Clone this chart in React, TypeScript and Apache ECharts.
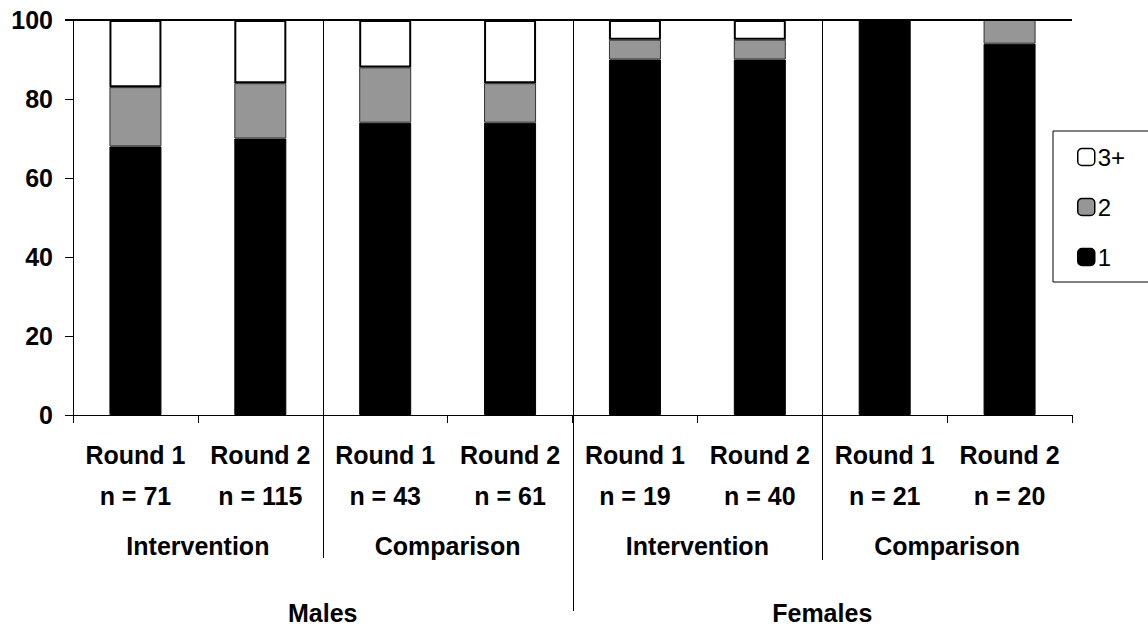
import React, { useEffect, useRef } from "react";
import * as echarts from "echarts";

const rounds = ["Round 1", "Round 2", "Round 1", "Round 2", "Round 1", "Round 2", "Round 1", "Round 2"];
const sampleSizes = ["n = 71", "n = 115", "n = 43", "n = 61", "n = 19", "n = 40", "n = 21", "n = 20"];
const groups = ["Intervention", "Comparison", "Intervention", "Comparison"];
const sexes = ["Males", "Females"];
const seriesNames = ["1", "2", "3+"];
const valuesOne = [68, 70, 74, 74, 90, 90, 100, 94];
const valuesTwo = [15, 14, 14, 10, 5, 5, 0, 6];
const valuesThreePlus = [17, 16, 12, 16, 5, 5, 0, 0];
const yTicks = [0, 20, 40, 60, 80, 100];

const FONT = "Liberation Sans, Arial, sans-serif";

export default function App() {
  const ref = useRef<HTMLDivElement>(null);
  useEffect(() => {
    if (!ref.current) return;
    const chart = echarts.init(ref.current, undefined, { renderer: "svg" });
    const gridLeft = 73;
    const gridRight = 76;
    const gridTop = 20;
    const gridBottom = 212;
    const W = 1148;
    const plotW = W - gridLeft - gridRight;
    const catW = plotW / rounds.length;
    const sepDefs = [
      { k: 2, bottom: 558 },
      { k: 4, bottom: 611 },
      { k: 6, bottom: 560 },
    ];
    const cats = rounds.map((r, i) => r + "\n" + sampleSizes[i]);
    const toData = (arr: number[]) => arr.map((v) => (v === 0 ? null : v));
    const boldLabel = {
      fontFamily: FONT,
      fontWeight: "bold",
      fontSize: 25,
      color: "#000",
    };
    chart.setOption({
      animation: false,
      textStyle: { fontFamily: FONT },
      grid: { left: gridLeft, right: gridRight, top: gridTop, bottom: gridBottom },
      legend: {
        data: ["3+", "2", "1"],
        orient: "vertical",
        left: 1053,
        top: 131,
        padding: [14, 40, 13, 24],
        itemGap: 26,
        itemWidth: 17,
        itemHeight: 17,
        icon: "roundRect",
        borderColor: "#000",
        borderWidth: 1,
        itemStyle: { borderColor: "#000", borderWidth: 1.5 },
        textStyle: { fontFamily: FONT, fontSize: 24, lineHeight: 23, color: "#000", padding: [0, 0, 0, -2] },
      },
      xAxis: [
        {
          type: "category",
          data: cats,
          position: "bottom",
          axisLine: { lineStyle: { color: "#000", width: 1 } },
          axisTick: { show: true, length: 8, lineStyle: { color: "#000" } },
          axisLabel: { ...boldLabel, interval: 0, margin: 19, lineHeight: 41 },
        },
        {
          type: "category",
          data: groups,
          position: "bottom",
          axisLine: { show: false },
          axisTick: { show: false },
          axisLabel: { ...boldLabel, interval: 0, margin: 118, lineHeight: 25 },
        },
        {
          type: "category",
          data: sexes,
          position: "bottom",
          axisLine: { show: false },
          axisTick: { show: false },
          axisLabel: { ...boldLabel, interval: 0, margin: 185, lineHeight: 25 },
        },
      ],
      yAxis: {
        type: "value",
        min: yTicks[0],
        max: yTicks[yTicks.length - 1],
        interval: 20,
        axisLine: { show: true, lineStyle: { color: "#000", width: 1 } },
        axisTick: { show: true, length: 8, lineStyle: { color: "#000" } },
        splitLine: { show: false },
        axisLabel: { ...boldLabel, margin: 20 },
      },
      series: [
        {
          name: seriesNames[0],
          type: "bar",
          stack: "s",
          barWidth: 52,
          data: toData(valuesOne),
          itemStyle: { color: "#000", borderColor: "#000", borderWidth: 1 },
        },
        {
          name: seriesNames[1],
          type: "bar",
          stack: "s",
          barWidth: 52,
          data: toData(valuesTwo),
          itemStyle: { color: "#969696", borderColor: "#333", borderWidth: 1 },
        },
        {
          name: seriesNames[2],
          type: "bar",
          stack: "s",
          barWidth: 52,
          data: toData(valuesThreePlus),
          itemStyle: { color: "#fff", borderColor: "#000", borderWidth: 2 },
        },
      ],
      graphic: [
        {
          type: "line",
          shape: { x1: gridLeft - 8, y1: gridTop, x2: W - gridRight, y2: gridTop },
          style: { stroke: "#000", lineWidth: 2 },
          z: 10,
        },
        ...sepDefs.map((s) => ({
          type: "line",
          shape: {
            x1: Math.round(gridLeft + catW * s.k) + 0.5,
            y1: gridTop,
            x2: Math.round(gridLeft + catW * s.k) + 0.5,
            y2: s.bottom,
          },
          style: { stroke: "#000", lineWidth: 1 },
          z: 10,
        })),
      ],
    });
    return () => chart.dispose();
  }, []);
  return (
    <div
      ref={ref}
      style={{ position: "fixed", left: 0, top: 0, width: 1148, height: 627, background: "#fff" }}
    />
  );
}
